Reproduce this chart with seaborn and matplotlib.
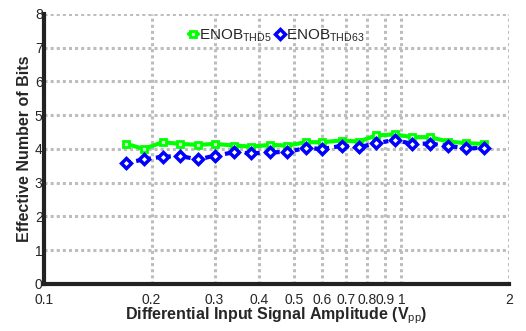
import numpy as np
import pandas as pd
import matplotlib
matplotlib.use('Agg')
import matplotlib.pyplot as plt
import seaborn as sns

# Data
amplitude = [0.17, 0.19, 0.215, 0.24, 0.27, 0.30, 0.34, 0.38, 0.43, 0.48, 0.54,
             0.60, 0.68, 0.76, 0.85, 0.96, 1.07, 1.2, 1.35, 1.52, 1.7]
enob_thd5 = [4.15, 4.00, 4.20, 4.15, 4.12, 4.15, 4.10, 4.07, 4.12, 4.10, 4.20,
             4.20, 4.25, 4.22, 4.40, 4.43, 4.35, 4.35, 4.22, 4.17, 4.15]
enob_thd63 = [3.58, 3.69, 3.77, 3.79, 3.69, 3.80, 3.90, 3.87, 3.90, 3.91, 4.03,
              4.00, 4.09, 4.05, 4.17, 4.27, 4.15, 4.16, 4.09, 4.02, 4.03]
xticks = [0.1, 0.2, 0.3, 0.4, 0.5, 0.6, 0.7, 0.8, 0.9, 1, 2]
xticklabels = ['0.1', '0.2', '0.3', '0.4', '0.5', '0.6', '0.7', '0.8', '0.9', '1', '2']

df = pd.DataFrame({'amp': amplitude, 'thd5': enob_thd5, 'thd63': enob_thd63})

sns.set_style('white')
plt.rcParams['font.family'] = ['Liberation Sans', 'DejaVu Sans']
plt.rcParams['mathtext.fontset'] = 'custom'
plt.rcParams['mathtext.rm'] = 'Liberation Sans'

fig = plt.figure(figsize=(5.26, 3.31), dpi=100)
ax = fig.add_axes([0.0837, 0.142, 0.884, 0.816])

sns.lineplot(data=df, x='amp', y='thd5', ax=ax, color='#00ff00', lw=3,
             marker='s', markersize=4.5, markerfacecolor='#c8ffc8',
             markeredgecolor='#00ff00', markeredgewidth=2,
             label=r'ENOB$_{\rm THD5}$')
sns.lineplot(data=df, x='amp', y='thd63', ax=ax, color='#0000ff', lw=3,
             linestyle=(0, (1.2, 1.2)), marker='D', markersize=5,
             markerfacecolor='white', markeredgecolor='#0000ff',
             markeredgewidth=2.5, label=r'ENOB$_{\rm THD63}$')

ax.set_xscale('log')
ax.set_xlim(0.1, 2)
ax.set_ylim(0, 8)
ax.set_xticks(xticks)
ax.set_xticklabels(xticklabels)
ax.xaxis.set_minor_locator(matplotlib.ticker.NullLocator())
ax.set_yticks(range(0, 9))

ax.grid(True, color='#bdbdbd', linestyle=(0, (1, 1)), linewidth=2.2)
ax.set_axisbelow(True)
for s in ['top', 'right']:
    ax.spines[s].set_visible(False)
for s in ['left', 'bottom']:
    ax.spines[s].set_linewidth(3)
    ax.spines[s].set_color('#222222')

ax.tick_params(direction='in', length=3, width=2, labelsize=10)
ax.tick_params(axis='x', pad=6.5)
ax.tick_params(axis='y', pad=1)
ax.set_xlabel(r'Differential Input Signal Amplitude (V$_{\rm pp}$)',
              fontsize=11.5, fontweight='bold', labelpad=-1)
ax.set_ylabel('Effective Number of Bits', fontsize=11.5, fontweight='bold', labelpad=2)

ax.legend(loc='upper center', bbox_to_anchor=(0.5, 0.985), ncol=2, frameon=False,
          handlelength=0.6, handletextpad=0.1, columnspacing=0.2, fontsize=11,
          borderaxespad=0.2)

fig.savefig('out.png', dpi=100)
